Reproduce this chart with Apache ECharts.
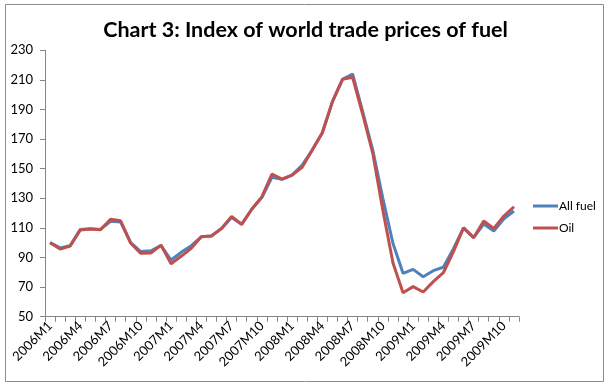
<!DOCTYPE html>
<html><head><meta charset="utf-8">
<script src="https://cdn.jsdelivr.net/npm/echarts@6/dist/echarts.min.js"></script>
<style>html,body{margin:0;padding:0;background:#fff}#c{width:611px;height:389px}</style>
</head><body><div id="c"></div>
<script>
const categories = ["2006M1","2006M2","2006M3","2006M4","2006M5","2006M6","2006M7","2006M8","2006M9","2006M10","2006M11","2006M12",
"2007M1","2007M2","2007M3","2007M4","2007M5","2007M6","2007M7","2007M8","2007M9","2007M10","2007M11","2007M12",
"2008M1","2008M2","2008M3","2008M4","2008M5","2008M6","2008M7","2008M8","2008M9","2008M10","2008M11","2008M12",
"2009M1","2009M2","2009M3","2009M4","2009M5","2009M6","2009M7","2009M8","2009M9","2009M10","2009M11"];
const allFuel = [100,96.5,98,109,109.5,109,114.5,114,100,94,94.5,98,
88.3,93.5,98,104,104.5,109.5,117,112.4,122.6,130.5,144.2,142.8,
145.7,152.5,162.6,174.3,195.3,210.4,214,188.5,162.6,130,99.6,79.3,
82,77,81.1,83.4,96,110,103.4,112.6,107.9,116.2,121.4];
const oil = [100,95.7,97.8,108.6,109.3,108.8,115.8,114.8,99.6,92.8,93,98.4,
85.8,90.8,96.2,104,104.5,109.7,117.8,112.4,122.6,131,146.4,143,
145.7,150.9,162.6,174.3,195.3,210.4,211.8,186.8,160.4,122,86.5,66.2,
70.3,66.7,73.7,79.7,94,110,103.4,114.7,109.7,118,124.3];
const yTicks = {min:50, max:230, interval:20};

const chart = echarts.init(document.getElementById('c'), null, {renderer:'canvas'});
const font = 'Lato, "Liberation Sans", Arial, sans-serif';
chart.setOption({
  animation:false,
  backgroundColor:'#fff',
  title:{text:'Chart 3: Index of world trade prices of fuel', left:'center', top:14,
    textStyle:{fontFamily:font, fontSize:21.5, fontWeight:'bold', color:'#000'}},
  graphic:[{type:'rect', shape:{x:5.5,y:4.5,width:598,height:377}, style:{fill:null, stroke:'#8c8c8c', lineWidth:1}, silent:true}],
  legend:{orient:'vertical', left:528, top:195, itemWidth:25, itemHeight:3, itemGap:10,
    icon:'rect',
    textStyle:{fontFamily:font, fontSize:12, color:'#000', padding:[0,0,0,-4]},
    data:[{name:'All fuel', icon:'rect'},{name:'Oil', icon:'rect'}]},
  grid:{left:45, right:92, top:50.3, bottom:72.3, containLabel:false},
  xAxis:{type:'category', data:categories, boundaryGap:true,
    axisLine:{lineStyle:{color:'#868686', width:1}},
    axisTick:{show:true, interval:0, length:5, inside:false, lineStyle:{color:'#868686'}},
    axisLabel:{interval:2, rotate:45, fontFamily:font, fontSize:13, color:'#000', margin:7}},
  yAxis:{type:'value', min:yTicks.min, max:yTicks.max, interval:yTicks.interval,
    splitLine:{show:false},
    axisLine:{show:true, lineStyle:{color:'#868686'}},
    axisTick:{show:true, length:5, lineStyle:{color:'#868686'}},
    axisLabel:{fontFamily:font, fontSize:13, color:'#000', margin:12}},
  series:[
    {name:'All fuel', type:'line', data:allFuel, showSymbol:false, symbol:'none', itemStyle:{color:'#4F81BD'}, lineStyle:{color:'#4F81BD', width:3}},
    {name:'Oil', type:'line', data:oil, showSymbol:false, symbol:'none', itemStyle:{color:'#C0504D'}, lineStyle:{color:'#C0504D', width:3}}
  ]
});
</script></body></html>
